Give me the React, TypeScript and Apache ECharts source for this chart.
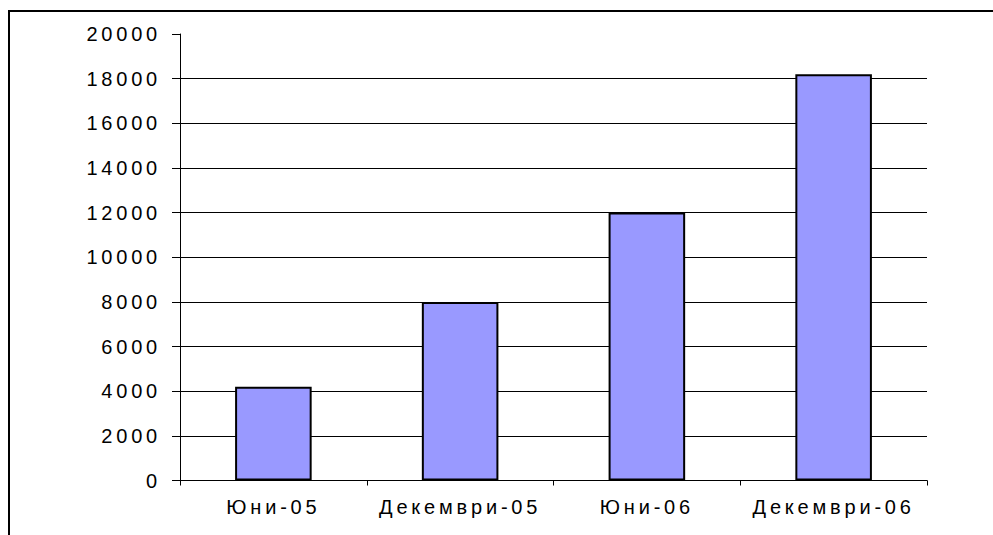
import React, { useEffect, useRef } from "react";
import * as echarts from "echarts";

const categories = ["Юни-05", "Декември-05", "Юни-06", "Декември-06"];
const values = [4200, 8000, 12000, 18200];
const yMin = 0;
const yMax = 20000;
const yInterval = 2000;

export default function App() {
  const ref = useRef<HTMLDivElement>(null);
  useEffect(() => {
    if (!ref.current) return;
    const chart = echarts.init(ref.current, undefined, { renderer: "svg" });
    const font = "'Liberation Sans', Arial, sans-serif";
    const gridColors = ["#000", "#000", "#000", "#000", "#000", "#000", "#000", "#000", "#000", "#000", "transparent"];
    chart.setOption({
      animation: false,
      backgroundColor: "#fff",
      grid: { left: 180, right: 66, top: 34, bottom: 54.5, containLabel: false },
      xAxis: {
        type: "category",
        data: categories,
        boundaryGap: true,
        axisLine: { show: true, lineStyle: { color: "#000", width: 1 } },
        axisTick: { show: true, length: 5, alignWithLabel: false, lineStyle: { color: "#000" } },
        axisLabel: { color: "#000", fontSize: 20, fontFamily: font, margin: 16 },
        splitLine: { show: false },
      },
      yAxis: {
        type: "value",
        min: yMin,
        max: yMax,
        interval: yInterval,
        axisLine: { show: true, lineStyle: { color: "#000", width: 1 } },
        axisTick: { show: true, length: 8, lineStyle: { color: "#000" } },
        axisLabel: {
          color: "#000",
          fontSize: 20,
          fontFamily: font,
          margin: 19,
          formatter: (v: number) => String(v),
        },
        splitLine: { show: true, lineStyle: { color: gridColors, width: 1 } },
      },
      series: [
        {
          type: "bar",
          data: values,
          barWidth: "41%",
          itemStyle: { color: "#9999FF", borderColor: "#000", borderWidth: 2 },
        },
      ],
      graphic: [
        { type: "line", shape: { x1: 9, y1: 11, x2: 993, y2: 11 }, style: { stroke: "#000", lineWidth: 2 } },
        { type: "line", shape: { x1: 9, y1: 10, x2: 9, y2: 535 }, style: { stroke: "#000", lineWidth: 2 } },
      ],
    });
    return () => chart.dispose();
  }, []);
  return (
    <div
      ref={ref}
      style={{ position: "fixed", left: 0, top: 0, width: 993, height: 535, letterSpacing: "3.8px" }}
    />
  );
}
